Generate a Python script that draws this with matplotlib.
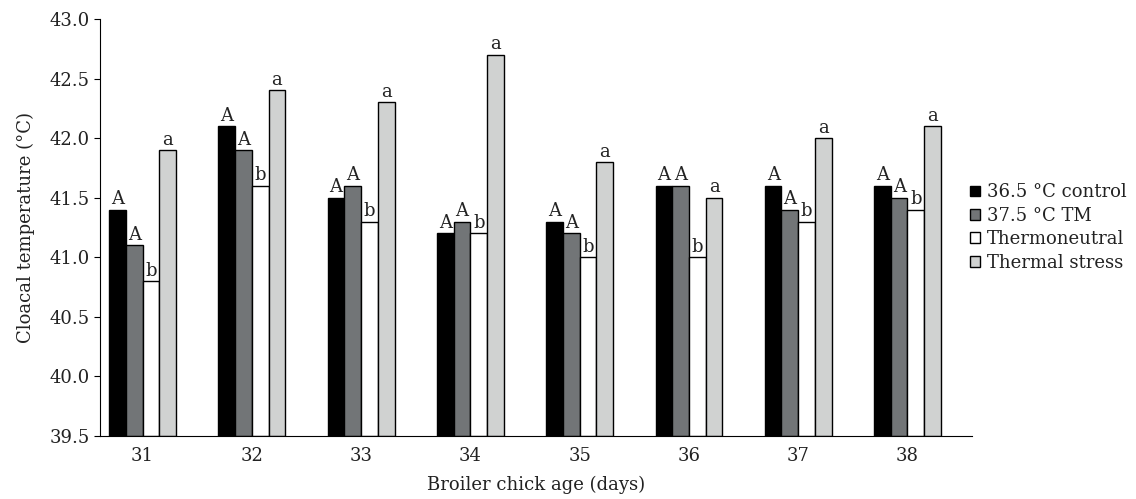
import numpy as np
import matplotlib
matplotlib.use('Agg')
import matplotlib.pyplot as plt

plt.rcParams['font.family'] = ['DejaVu Serif']

ages = ['31', '32', '33', '34', '35', '36', '37', '38']
series_names = ['36.5 °C control', '37.5 °C TM', 'Thermoneutral', 'Thermal stress']
control = [41.4, 42.1, 41.5, 41.2, 41.3, 41.6, 41.6, 41.6]
tm = [41.1, 41.9, 41.6, 41.3, 41.2, 41.6, 41.4, 41.5]
neutral = [40.8, 41.6, 41.3, 41.2, 41.0, 41.0, 41.3, 41.4]
stress = [41.9, 42.4, 42.3, 42.7, 41.8, 41.5, 42.0, 42.1]
letters = ['A', 'A', 'b', 'a']

colors = ['#000000', '#727577', '#ffffff', '#d0d2d1']
BASE = 39.5
W = 0.153
FS = 13

fig = plt.figure(figsize=(11.36, 4.99), dpi=100)
ax = fig.add_axes([0.088, 0.1263, 0.7676, 0.8357])

x = np.arange(len(ages))
data = [control, tm, neutral, stress]
for k, (vals, col, name) in enumerate(zip(data, colors, series_names)):
    pos = x + (k - 1.5) * W
    heights = np.array(vals) - BASE
    ax.bar(pos, heights, W, bottom=BASE, color=col, edgecolor='black',
           linewidth=1.0, label=name)
    for p, v in zip(pos, vals):
        ax.annotate(letters[k], (p, v), xytext=(0, 1), textcoords='offset points',
                    ha='center', va='bottom', fontsize=FS, color='#222222')

ax.set_xlim(-0.39, 7.59)
ax.set_ylim(39.5, 43.0)
yt = np.arange(39.5, 43.01, 0.5)
ax.set_yticks(yt)
ax.set_yticklabels([f'{v:.1f}' for v in yt])
ax.set_xticks(x)
ax.set_xticklabels(ages)
ax.tick_params(axis='x', length=0, labelsize=FS, pad=8, colors='#222222')
ax.tick_params(axis='y', length=4, labelsize=FS, direction='out', labelcolor='#222222')
ax.spines['top'].set_visible(False)
ax.spines['right'].set_visible(False)
ax.set_xlabel('Broiler chick age (days)', fontsize=FS, labelpad=8, color='#222222')
ax.set_ylabel('Cloacal temperature (°C)', fontsize=FS, labelpad=10, color='#222222')

leg = ax.legend(loc='center left', bbox_to_anchor=(0.99, 0.5), frameon=False,
                fontsize=FS, handlelength=0.55, handleheight=0.55, handletextpad=0.35,
                labelspacing=0.3, borderaxespad=0.0)
for t in leg.get_texts():
    t.set_color('#222222')

fig.savefig('out.png', dpi=100)
